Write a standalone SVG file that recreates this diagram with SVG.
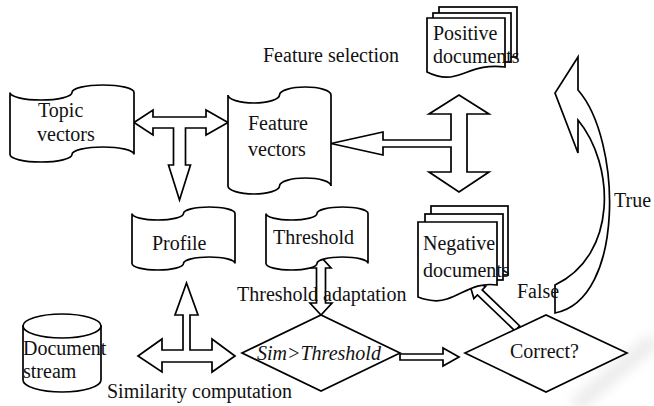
<svg xmlns="http://www.w3.org/2000/svg" width="654" height="406" viewBox="0 0 654 406">
  <style>
    .shape { fill: #ffffff; stroke: #000000; stroke-width: 1.7; stroke-linejoin: miter; }
    .arrow { fill: #ffffff; stroke: #000000; stroke-width: 1.7; stroke-linejoin: miter; }
    text { font-family: "Liberation Serif", "DejaVu Serif", "Times New Roman", serif; font-size: 20px; fill: #111111; }
    .it { font-style: italic; }
  </style>
  <defs>
    <filter id="soft" x="-50%" y="-50%" width="200%" height="200%">
      <feGaussianBlur stdDeviation="6"/>
    </filter>
  </defs>
  <rect width="654" height="406" fill="#ffffff"/>

  <!-- faint smudge in the lower right corner -->
  <path d="M575,406 C600,385 630,360 654,340" fill="none" stroke="#ececec" stroke-width="16" filter="url(#soft)"/>

  <!-- connectors (block arrows) -->
  <g id="connectors">
    <!-- Topic vectors <-> Feature vectors, branch down to Profile -->
    <polygon class="arrow" points="134,122.5 153,110 153,117 206,117 206,110 228,122.5 206,135 206,128 185.5,128 185.5,165 190.5,165 179.5,200 168.5,165 173.5,165 173.5,128 153,128 153,135"/>
    <!-- Feature selection: Positive/Negative documents -> Feature vectors -->
    <polygon class="arrow" points="331,143.5 383,132 383,140 451,140 451,114 429,114 459,95 489,114 467,114 467,172 489,172 459,192 429,172 451,172 451,147 383,147 383,155"/>
    <!-- Similarity computation: Document stream, Profile, Sim>Threshold -->
    <polygon class="arrow" points="186.5,283 198,315 190,315 190,350 212,350 212,339 235,356 212,372 212,362 162,362 162,372 138,356 162,339 162,350 183,350 183,315 175,315"/>
    <!-- Threshold adaptation -->
    <polygon class="arrow" points="321,257 331,268 325.5,268 325.5,303 332,303 321,315 310,303 316.5,303 316.5,268 311,268"/>
    <!-- Sim>Threshold -> Correct? -->
    <polygon class="arrow" points="400,354 443,354 443,348 459,357 443,366 443,360 400,360"/>
    <!-- False: Correct? -> Negative documents -->
    <polygon class="arrow" points="469,282 485.7,286.3 482.2,289.9 519.7,325.9 514.9,330.9 477.4,294.9 473.9,298.5"/>
    <!-- True: Correct? -> Positive documents (curved) -->
    <path class="arrow" d="M555,313 C625,300 622,140 578,90 L578,57 L555,93 L578,153 L578,120 C615,165 618,255 555,285 Z"/>
  </g>

  <g id="topic-vectors">
    <path class="shape" d="M10,92.5 A31,7.5 0 0 0 72,92.5 A31,7.5 0 0 1 134,92.5 L134,154.5 A31,7.5 0 0 0 72,154.5 A31,7.5 0 0 1 10,154.5 Z"/>
    <text x="38" y="117">Topic</text>
    <text x="37" y="141">vectors</text>
  </g>

  <g id="feature-vectors">
    <path class="shape" d="M228,95 A25.75,8 0 0 0 279.5,95 A25.75,8 0 0 1 331,95 L331,186 A25.75,8 0 0 0 279.5,186 A25.75,8 0 0 1 228,186 Z"/>
    <text x="248" y="130">Feature</text>
    <text x="248" y="156">vectors</text>
  </g>

  <g id="feature-selection-label">
    <text x="263" y="62">Feature selection</text>
  </g>

  <g id="positive-documents">
    <rect class="shape" x="439" y="7" width="78" height="50"/>
    <rect class="shape" x="433" y="13" width="78" height="49"/>
    <path class="shape" d="M427,18 H505 V67 C482,64 470,72 455,76 C445,79 435,76 427,72 Z"/>
    <text x="433" y="40">Positive</text>
    <text x="433" y="63">documents</text>
  </g>

  <g id="profile">
    <path class="shape" d="M132,213.5 A25.75,6.5 0 0 0 183.5,213.5 A25.75,6.5 0 0 1 235,213.5 L235,263.5 A25.75,6.5 0 0 0 183.5,263.5 A25.75,6.5 0 0 1 132,263.5 Z"/>
    <text x="152" y="250">Profile</text>
  </g>

  <g id="threshold">
    <path class="shape" d="M266,213.5 A25.5,6.5 0 0 0 317,213.5 A25.5,6.5 0 0 1 368,213.5 L368,263.5 A25.5,6.5 0 0 0 317,263.5 A25.5,6.5 0 0 1 266,263.5 Z"/>
    <text x="273" y="244">Threshold</text>
  </g>

  <g id="negative-documents">
    <rect class="shape" x="431" y="206" width="77" height="69"/>
    <rect class="shape" x="425" y="214" width="78" height="66"/>
    <path class="shape" d="M418,222 H497 V285 C475,282 465,293 447,299 C436,303 426,300 418,297 Z"/>
    <text x="423" y="250">Negative</text>
    <text x="423" y="277">documents</text>
  </g>

  <g id="document-stream">
    <path class="shape" d="M23,326 V380 A39,12 0 0 0 101,380 V326 Z"/>
    <ellipse class="shape" cx="62" cy="326" rx="39" ry="12"/>
    <text x="23" y="355">Document</text>
    <text x="23" y="378">stream</text>
  </g>

  <g id="sim-threshold">
    <polygon class="shape" points="242,353 321,315 400,353 321,391"/>
    <text class="it" x="257" y="360">Sim&gt;Threshold</text>
  </g>

  <g id="correct">
    <polygon class="shape" points="465,353 546,315 627,353 546,392"/>
    <text x="510" y="358">Correct?</text>
  </g>

  <g id="edge-labels">
    <text x="237" y="301">Threshold adaptation</text>
    <text x="107" y="398">Similarity computation</text>
    <text x="517" y="298">False</text>
    <text x="614" y="207">True</text>
  </g>
</svg>
